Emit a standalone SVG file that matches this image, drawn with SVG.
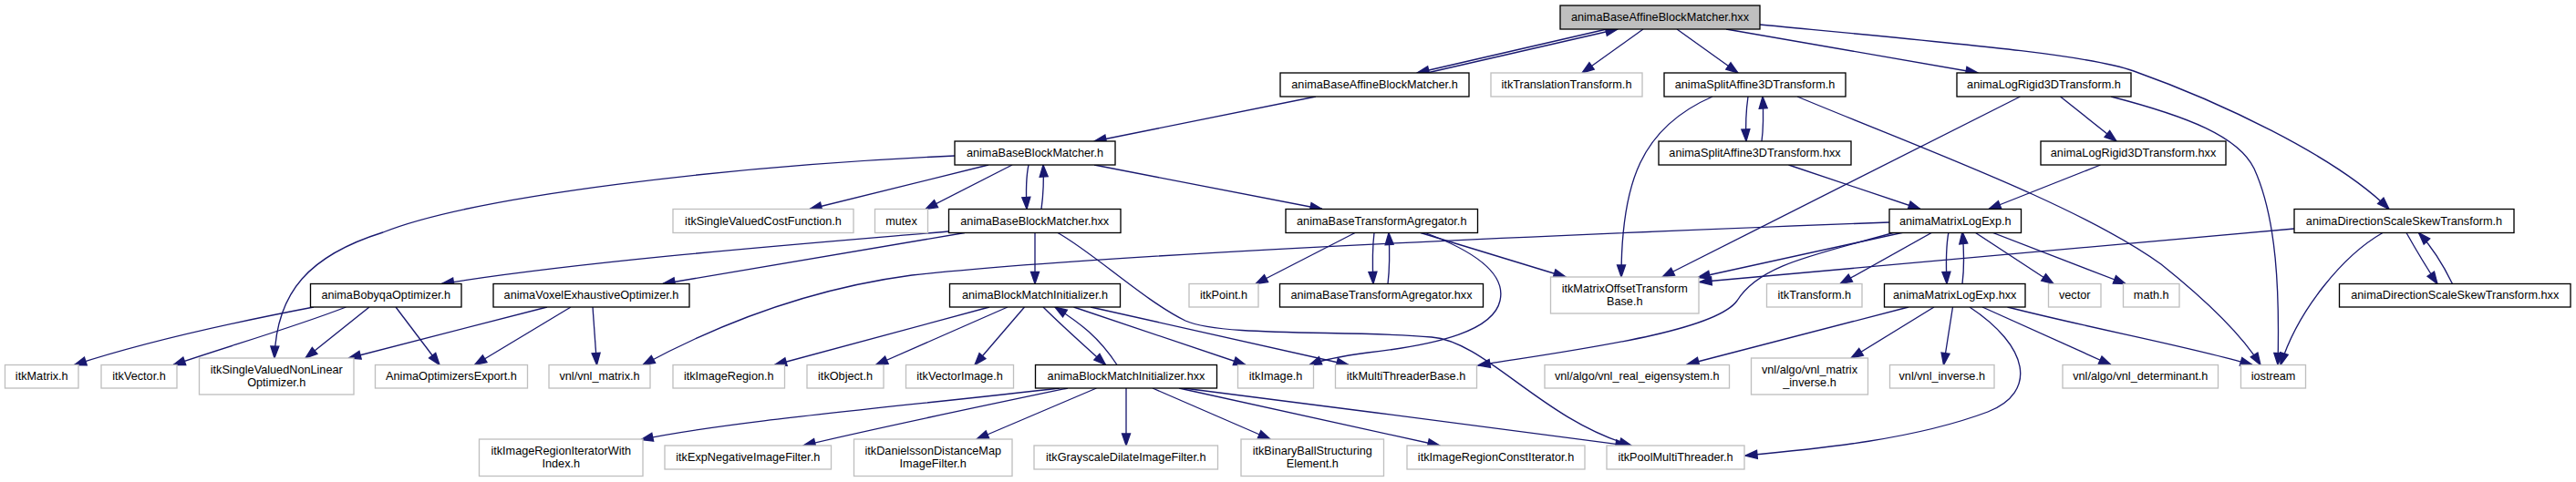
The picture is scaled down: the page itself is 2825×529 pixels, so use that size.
<svg xmlns="http://www.w3.org/2000/svg" width="2825" height="529" viewBox="0 0 2825 529">
<style>
.n rect{fill:#fff;stroke:#000;stroke-width:1.33}
.g rect{fill:#fff;stroke:#bfbfbf;stroke-width:1.33}
.t rect{fill:#bfbfbf;stroke:#000;stroke-width:1.33}
text{font-family:"Liberation Sans",Arial,Helvetica,sans-serif;font-size:12.7px;text-anchor:middle;fill:#000}
#edges path{fill:none;stroke:#191970;stroke-width:1.33;marker-end:url(#a)}
</style>
<defs>
<marker id="a" markerUnits="userSpaceOnUse" markerWidth="14" markerHeight="10" refX="13" refY="4.5" orient="auto" overflow="visible">
<path d="M0,0 L13,4.5 L0,9 Z" fill="#191970" stroke="#191970" stroke-width="1.33"/>
</marker>
</defs>
<rect width="2825" height="529" fill="#fff"/>
<g id="edges">
<path d="M1762,32 L1554,80"/>
<path d="M1565,80 L1774,32"/>
<path d="M1802,32 L1735,80"/>
<path d="M1839,32 L1906,80"/>
<path d="M1893,32 L2169,80"/>
<path d="M1930,27 C2150,48 2290,60 2340,78 C2430,110 2560,170 2620,229.5"/>
<path d="M1443,106 L1200,155"/>
<path d="M1084,181 L888,229.5"/>
<path d="M1110,181 L1015,229.5"/>
<path d="M1128,181 C1125,195 1125,210 1126,229.5"/>
<path d="M1142,229.5 C1144,215 1145,200 1144,181"/>
<path d="M1200,181 L1450,229.5"/>
<path d="M1047,171 C800,182 520,215 420,255 C340,280 303,320 301,393"/>
<path d="M1040,254 C900,266 650,285 484.5,311.5"/>
<path d="M1058,255.5 L727,311.5"/>
<path d="M1135,255.5 L1135,311.5"/>
<path d="M1160,255.5 C1200,278 1255,330 1300,352 C1340,370 1480,362 1570,370 C1630,375 1690,460 1789,489"/>
<path d="M1486,255.5 L1377,311.5"/>
<path d="M1507,255.5 C1505,272 1505,290 1506,311.5"/>
<path d="M1522,311.5 C1524,295 1524,275 1523,255.5"/>
<path d="M1558,255.5 L1717,304"/>
<path d="M1563,255.5 C1615,275 1652,300 1645,330 C1638,362 1580,378 1500,387 C1470,391 1450,395 1436,400.5"/>
<path d="M1917,106 C1915,120 1914,135 1915,155"/>
<path d="M1932,155 C1934,140 1934,125 1933,106"/>
<path d="M1878,106 C1800,140 1778,200 1778,304"/>
<path d="M1971,106 C2100,160 2280,225 2370,290 C2420,330 2460,370 2479,400.5"/>
<path d="M1961.5,181 L2106,229.5"/>
<path d="M2259.5,106 L2321,155"/>
<path d="M2215.5,106 L1823,304"/>
<path d="M2315,106 C2400,128 2455,150 2472,185 C2497,240 2500,320 2498,400.5"/>
<path d="M2303.5,181 L2181,229.5"/>
<path d="M2137,254.5 C2134,270 2134,290 2135,311.5"/>
<path d="M2152,311.5 C2154,295 2154,275 2152,254.5"/>
<path d="M2165,254.5 L2252,311.5"/>
<path d="M2183,254.5 L2331,311.5"/>
<path d="M2120,254.5 L2018,311.5"/>
<path d="M2090,254.5 L1862,304.5"/>
<path d="M2078,255 C1990,280 1930,290 1905,330 C1880,365 1720,385 1621,401"/>
<path d="M2072,244 C1700,258 1200,280 1000,302 C880,318 780,360 705,400.5"/>
<path d="M2093,337 L1850,400"/>
<path d="M2121,337 L2030,393"/>
<path d="M2141.5,337 L2131.5,400.5"/>
<path d="M2174,337 L2315,400.5"/>
<path d="M2201.5,337 C2300,362 2400,380 2470,400.5"/>
<path d="M2160,337 C2225,380 2235,430 2180,452 C2100,482 2000,492 1914,500"/>
<path d="M2639,255.5 C2650,275 2662,295 2673,311.5"/>
<path d="M2689.5,311.5 C2680,292 2668,272 2652.5,255.5"/>
<path d="M2613,255.5 C2570,280 2520,340 2501,400.5"/>
<path d="M2516,251 L1864,309.5"/>
<path d="M1085,337 L849.5,400.5"/>
<path d="M1105,337 L960.5,400.5"/>
<path d="M1123.5,337 L1069,400.5"/>
<path d="M1144,337 C1165,358 1190,380 1212.5,400.5"/>
<path d="M1225,400.5 C1205,370 1185,355 1157,337"/>
<path d="M1177.5,337 L1366,400.5"/>
<path d="M1196,337 L1479,400.5"/>
<path d="M1162,426 C1000,445 800,462 703,482.5"/>
<path d="M1171,426 C1080,445 960,470 881,489"/>
<path d="M1202.5,426 L1071,482"/>
<path d="M1235,426 L1235,489"/>
<path d="M1264,426 L1393,482"/>
<path d="M1293,426 L1579,489"/>
<path d="M1298,426 C1450,446 1650,470 1785,489"/>
<path d="M344,337 C250,355 150,378 81.5,400.5"/>
<path d="M379.5,337 C320,360 250,380 190,400.5"/>
<path d="M405,337 L335,393"/>
<path d="M434,337 L482,400.5"/>
<path d="M600,337 L382.5,393"/>
<path d="M626,337 L520.5,400.5"/>
<path d="M650,337 L654.5,400.5"/>
</g>
<g id="n_top" class="t"><rect x="1711" y="6" width="219" height="26"/><text x="1820.5" y="23">animaBaseAffineBlockMatcher.hxx</text></g>
<g id="n_affine_h" class="n"><rect x="1404" y="80" width="207" height="26"/><text x="1507.5" y="97">animaBaseAffineBlockMatcher.h</text></g>
<g id="n_translation" class="g"><rect x="1635" y="80" width="166" height="26"/><text x="1718" y="97">itkTranslationTransform.h</text></g>
<g id="n_split_h" class="n"><rect x="1825" y="80" width="199" height="26"/><text x="1924.5" y="97">animaSplitAffine3DTransform.h</text></g>
<g id="n_logrigid_h" class="n"><rect x="2146" y="80" width="191" height="26"/><text x="2241.5" y="97">animaLogRigid3DTransform.h</text></g>
<g id="n_bbm_h" class="n"><rect x="1047" y="155" width="176" height="26"/><text x="1135" y="172">animaBaseBlockMatcher.h</text></g>
<g id="n_split_hxx" class="n"><rect x="1819" y="155" width="211" height="26"/><text x="1924.5" y="172">animaSplitAffine3DTransform.hxx</text></g>
<g id="n_logrigid_hxx" class="n"><rect x="2238" y="155" width="203" height="26"/><text x="2339.5" y="172">animaLogRigid3DTransform.hxx</text></g>
<g id="n_svcf" class="g"><rect x="738" y="229.5" width="198" height="26"/><text x="837" y="246.5">itkSingleValuedCostFunction.h</text></g>
<g id="n_mutex" class="g"><rect x="959.5" y="229.5" width="58" height="26"/><text x="988.5" y="246.5">mutex</text></g>
<g id="n_bbm_hxx" class="n"><rect x="1040.5" y="229.5" width="188.5" height="26"/><text x="1134.75" y="246.5">animaBaseBlockMatcher.hxx</text></g>
<g id="n_bta_h" class="n"><rect x="1410" y="229.5" width="210.5" height="26"/><text x="1515.25" y="246.5">animaBaseTransformAgregator.h</text></g>
<g id="n_mle_h" class="n"><rect x="2072" y="229.5" width="144.5" height="26"/><text x="2144.25" y="246.5">animaMatrixLogExp.h</text></g>
<g id="n_dss_h" class="n"><rect x="2516" y="229.5" width="241" height="26"/><text x="2636.5" y="246.5">animaDirectionScaleSkewTransform.h</text></g>
<g id="n_bobyqa" class="n"><rect x="340.5" y="311.5" width="165.5" height="25.5"/><text x="423.25" y="328.2">animaBobyqaOptimizer.h</text></g>
<g id="n_voxel" class="n"><rect x="541" y="311.5" width="215" height="25.5"/><text x="648.5" y="328.2">animaVoxelExhaustiveOptimizer.h</text></g>
<g id="n_bmi_h" class="n"><rect x="1041.5" y="311.5" width="187" height="25.5"/><text x="1135" y="328.2">animaBlockMatchInitializer.h</text></g>
<g id="n_point" class="g"><rect x="1304" y="311.5" width="76" height="25.5"/><text x="1342" y="328.2">itkPoint.h</text></g>
<g id="n_bta_hxx" class="n"><rect x="1403.5" y="311.5" width="223" height="25.5"/><text x="1515" y="328.2">animaBaseTransformAgregator.hxx</text></g>
<g id="n_motb" class="g"><rect x="1700.5" y="304" width="162.5" height="40"/><text x="1781.75" y="320.5">itkMatrixOffsetTransform</text><text x="1781.75" y="334.8">Base.h</text></g>
<g id="n_transform" class="g"><rect x="1937.5" y="311.5" width="104.5" height="25.5"/><text x="1989.75" y="328.2">itkTransform.h</text></g>
<g id="n_mle_hxx" class="n"><rect x="2066.5" y="311.5" width="154.5" height="25.5"/><text x="2143.75" y="328.2">animaMatrixLogExp.hxx</text></g>
<g id="n_vector" class="g"><rect x="2246.5" y="311.5" width="57.5" height="25.5"/><text x="2275.25" y="328.2">vector</text></g>
<g id="n_math" class="g"><rect x="2328.5" y="311.5" width="61.5" height="25.5"/><text x="2359.25" y="328.2">math.h</text></g>
<g id="n_dss_hxx" class="n"><rect x="2565.5" y="311.5" width="253.5" height="25.5"/><text x="2692.25" y="328.2">animaDirectionScaleSkewTransform.hxx</text></g>
<g id="n_matrix" class="g"><rect x="5.5" y="400.5" width="80.5" height="25.5"/><text x="45.75" y="417.2">itkMatrix.h</text></g>
<g id="n_vec" class="g"><rect x="111" y="400.5" width="83" height="25.5"/><text x="152.5" y="417.2">itkVector.h</text></g>
<g id="n_svnlo" class="g"><rect x="218.5" y="393" width="169.5" height="40"/><text x="303.25" y="409.5">itkSingleValuedNonLinear</text><text x="303.25" y="423.8">Optimizer.h</text></g>
<g id="n_aoe" class="g"><rect x="411.5" y="400.5" width="167" height="25.5"/><text x="495" y="417.2">AnimaOptimizersExport.h</text></g>
<g id="n_vnlmatrix" class="g"><rect x="602" y="400.5" width="111" height="25.5"/><text x="657.5" y="417.2">vnl/vnl_matrix.h</text></g>
<g id="n_region" class="g"><rect x="738" y="400.5" width="122.5" height="25.5"/><text x="799.25" y="417.2">itkImageRegion.h</text></g>
<g id="n_object" class="g"><rect x="885" y="400.5" width="84" height="25.5"/><text x="927" y="417.2">itkObject.h</text></g>
<g id="n_vecimage" class="g"><rect x="993.5" y="400.5" width="118" height="25.5"/><text x="1052.5" y="417.2">itkVectorImage.h</text></g>
<g id="n_bmi_hxx" class="n"><rect x="1135.5" y="400.5" width="199" height="25.5"/><text x="1235" y="417.2">animaBlockMatchInitializer.hxx</text></g>
<g id="n_image" class="g"><rect x="1357.5" y="400.5" width="83" height="25.5"/><text x="1399" y="417.2">itkImage.h</text></g>
<g id="n_mtb" class="g"><rect x="1464.5" y="400.5" width="155" height="25.5"/><text x="1542" y="417.2">itkMultiThreaderBase.h</text></g>
<g id="n_eigen" class="g"><rect x="1694" y="400.5" width="202.5" height="25.5"/><text x="1795.25" y="417.2">vnl/algo/vnl_real_eigensystem.h</text></g>
<g id="n_minv" class="g"><rect x="1920.5" y="393" width="128" height="40"/><text x="1984.5" y="409.5">vnl/algo/vnl_matrix</text><text x="1984.5" y="423.8">_inverse.h</text></g>
<g id="n_vnlinv" class="g"><rect x="2072.5" y="400.5" width="114.5" height="25.5"/><text x="2129.75" y="417.2">vnl/vnl_inverse.h</text></g>
<g id="n_det" class="g"><rect x="2262" y="400.5" width="170.5" height="25.5"/><text x="2347.25" y="417.2">vnl/algo/vnl_determinant.h</text></g>
<g id="n_iostream" class="g"><rect x="2457.5" y="400.5" width="71" height="25.5"/><text x="2493" y="417.2">iostream</text></g>
<g id="n_iriwi" class="g"><rect x="525.5" y="482" width="179.5" height="40.5"/><text x="615.25" y="498.7">itkImageRegionIteratorWith</text><text x="615.25" y="513">Index.h</text></g>
<g id="n_expneg" class="g"><rect x="729" y="489" width="182.5" height="26"/><text x="820.25" y="506">itkExpNegativeImageFilter.h</text></g>
<g id="n_daniel" class="g"><rect x="936.5" y="482" width="173.5" height="40.5"/><text x="1023.25" y="498.7">itkDanielssonDistanceMap</text><text x="1023.25" y="513">ImageFilter.h</text></g>
<g id="n_gray" class="g"><rect x="1134" y="489" width="201.5" height="26"/><text x="1234.75" y="506">itkGrayscaleDilateImageFilter.h</text></g>
<g id="n_ball" class="g"><rect x="1361" y="482" width="156.5" height="40.5"/><text x="1439.25" y="498.7">itkBinaryBallStructuring</text><text x="1439.25" y="513">Element.h</text></g>
<g id="n_rci" class="g"><rect x="1543" y="489" width="195" height="26"/><text x="1640.5" y="506">itkImageRegionConstIterator.h</text></g>
<g id="n_pool" class="g"><rect x="1762" y="489" width="151" height="26"/><text x="1837.5" y="506">itkPoolMultiThreader.h</text></g>
</svg>
